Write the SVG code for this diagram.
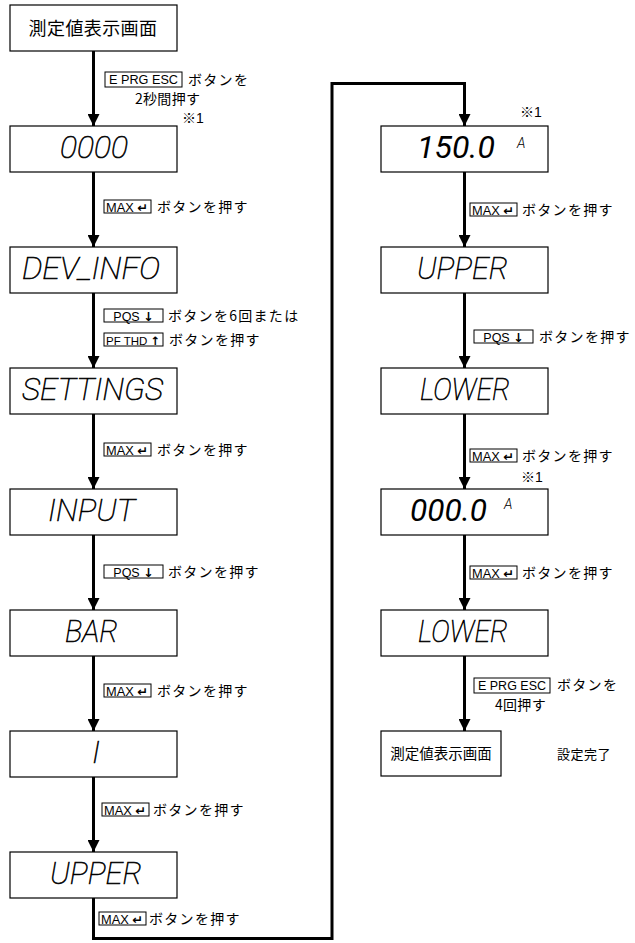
<svg xmlns="http://www.w3.org/2000/svg" width="635" height="943" viewBox="0 0 635 943">
<style>
.box{fill:#fff;stroke:#000;stroke-width:1.2}
.conn{fill:none;stroke:#000;stroke-width:3}
.seg{font-family:Roboto,"DejaVu Sans",sans-serif;font-style:italic;font-weight:100;font-size:32px;fill:#000;stroke:#000;stroke-width:0.6}
.segb{font-family:Roboto,"DejaVu Sans",sans-serif;font-style:italic;font-weight:400;font-size:32px}
.unit{font-family:Roboto,"DejaVu Sans",sans-serif;font-style:italic;font-weight:300;font-size:14px}
.main{font-family:"Noto Sans CJK JP",sans-serif;font-size:18px;letter-spacing:0.4px}
.jp{font-family:"Noto Sans CJK JP",sans-serif;font-size:14px;letter-spacing:1.3px}
.note{font-family:"Liberation Sans","Noto Sans CJK JP",sans-serif;font-size:14px}
.btn{fill:none;stroke:#000;stroke-width:1}
.bt{font-family:"Liberation Sans","DejaVu Sans",sans-serif;font-size:12.5px}
.ar{font-family:"DejaVu Sans",sans-serif;font-weight:bold}
</style>
<defs>
<marker id="ah" markerUnits="userSpaceOnUse" markerWidth="12" markerHeight="12" refX="12" refY="6" orient="auto">
<path d="M0,0 L12,6 L0,12 z" fill="#000"/>
</marker>
</defs>

<g id="connectors">
<line class="conn" x1="93.5" y1="51" x2="93.5" y2="126" marker-end="url(#ah)"/>
<line class="conn" x1="93.5" y1="172" x2="93.5" y2="247" marker-end="url(#ah)"/>
<line class="conn" x1="93.5" y1="293" x2="93.5" y2="368" marker-end="url(#ah)"/>
<line class="conn" x1="93.5" y1="414" x2="93.5" y2="489" marker-end="url(#ah)"/>
<line class="conn" x1="93.5" y1="535" x2="93.5" y2="610" marker-end="url(#ah)"/>
<line class="conn" x1="93.5" y1="656" x2="93.5" y2="731" marker-end="url(#ah)"/>
<line class="conn" x1="93.5" y1="777" x2="93.5" y2="852" marker-end="url(#ah)"/>
<path class="conn" d="M93.5,898 V938.5 H332 V83.5 H464.5 V126" marker-end="url(#ah)"/>
<line class="conn" x1="464.5" y1="172" x2="464.5" y2="247" marker-end="url(#ah)"/>
<line class="conn" x1="464.5" y1="293" x2="464.5" y2="368" marker-end="url(#ah)"/>
<line class="conn" x1="464.5" y1="414" x2="464.5" y2="489" marker-end="url(#ah)"/>
<line class="conn" x1="464.5" y1="535" x2="464.5" y2="610" marker-end="url(#ah)"/>
<line class="conn" x1="464.5" y1="656" x2="464.5" y2="731" marker-end="url(#ah)"/>
</g>

<g id="n1"><rect class="box" x="10" y="5" width="167" height="46"/><text class="main" x="93" y="35" text-anchor="middle">測定値表示画面</text></g>
<g id="n2"><rect class="box" x="10" y="126" width="167" height="46"/><text class="seg" x="60" y="158" textLength="68" lengthAdjust="spacingAndGlyphs">0000</text></g>
<g id="n3"><rect class="box" x="10" y="247" width="167" height="46"/><text class="seg" x="22" y="279" textLength="138" lengthAdjust="spacingAndGlyphs">DEV_INFO</text></g>
<g id="n4"><rect class="box" x="10" y="368" width="167" height="46"/><text class="seg" x="22" y="400" textLength="141" lengthAdjust="spacingAndGlyphs">SETTINGS</text></g>
<g id="n5"><rect class="box" x="10" y="489" width="167" height="46"/><text class="seg" x="48" y="521" textLength="87" lengthAdjust="spacingAndGlyphs">INPUT</text></g>
<g id="n6"><rect class="box" x="10" y="610" width="167" height="46"/><text class="seg" x="65" y="642" textLength="53" lengthAdjust="spacingAndGlyphs">BAR</text></g>
<g id="n7"><rect class="box" x="10" y="731" width="167" height="46"/><text class="seg" x="96" y="763" text-anchor="middle">I</text></g>
<g id="n8"><rect class="box" x="10" y="852" width="167" height="46"/><text class="seg" x="50" y="884" textLength="92" lengthAdjust="spacingAndGlyphs">UPPER</text></g>

<g id="n9"><rect class="box" x="381" y="126" width="167" height="46"/><text class="segb" x="417" y="158" textLength="78" lengthAdjust="spacingAndGlyphs">150.0</text><text class="unit" x="517" y="148">A</text></g>
<g id="n10"><rect class="box" x="381" y="247" width="167" height="46"/><text class="seg" x="417" y="279" textLength="91" lengthAdjust="spacingAndGlyphs">UPPER</text></g>
<g id="n11"><rect class="box" x="381" y="368" width="167" height="46"/><text class="seg" x="420" y="400" textLength="90" lengthAdjust="spacingAndGlyphs">LOWER</text></g>
<g id="n12"><rect class="box" x="381" y="489" width="167" height="46"/><text class="segb" x="410" y="521" textLength="77" lengthAdjust="spacingAndGlyphs">000.0</text><text class="unit" x="504" y="509">A</text></g>
<g id="n13"><rect class="box" x="381" y="610" width="167" height="46"/><text class="seg" x="418" y="642" textLength="90" lengthAdjust="spacingAndGlyphs">LOWER</text></g>
<g id="n14"><rect class="box" x="381" y="731" width="120" height="45"/><text class="main" x="441" y="759" text-anchor="middle" style="font-size:14.5px;letter-spacing:0">測定値表示画面</text></g>
<g id="done"><text class="jp" x="557" y="759" style="font-size:13px;letter-spacing:0.5px">設定完了</text></g>

<g id="labels">
<rect class="btn" x="105" y="72" width="77" height="15"/><text class="bt" x="109" y="84" textLength="69" lengthAdjust="spacingAndGlyphs">E PRG ESC</text>
<text class="jp" x="188" y="85">ボタンを</text>
<text class="jp" x="135" y="104" style="letter-spacing:0.3px">2秒間押す</text>
<text class="note" x="182" y="123">※1</text>

<rect class="btn" x="104" y="200" width="47" height="13"/><text class="bt" x="106" y="211.5" textLength="42" lengthAdjust="spacingAndGlyphs">MAX <tspan class="ar">↵</tspan></text>
<text class="jp" x="157" y="212">ボタンを押す</text>

<rect class="btn" x="104" y="309" width="59" height="13"/><text class="bt" x="133.5" y="320.5" text-anchor="middle">PQS <tspan class="ar">↓</tspan></text>
<text class="jp" x="168" y="321">ボタンを6回または</text>
<rect class="btn" x="104" y="333" width="59" height="13"/><text class="bt" x="106" y="344.5" style="font-size:11.5px">PF THD <tspan class="ar">↑</tspan></text>
<text class="jp" x="169" y="345">ボタンを押す</text>

<rect class="btn" x="104" y="443" width="47" height="13"/><text class="bt" x="106" y="454.5" textLength="42" lengthAdjust="spacingAndGlyphs">MAX <tspan class="ar">↵</tspan></text>
<text class="jp" x="157" y="455">ボタンを押す</text>

<rect class="btn" x="104" y="565" width="59" height="13"/><text class="bt" x="133.5" y="576.5" text-anchor="middle">PQS <tspan class="ar">↓</tspan></text>
<text class="jp" x="168" y="577">ボタンを押す</text>

<rect class="btn" x="104" y="684" width="47" height="13"/><text class="bt" x="106" y="695.5" textLength="42" lengthAdjust="spacingAndGlyphs">MAX <tspan class="ar">↵</tspan></text>
<text class="jp" x="157" y="696">ボタンを押す</text>

<rect class="btn" x="102" y="803" width="47" height="13"/><text class="bt" x="104" y="814.5" textLength="42" lengthAdjust="spacingAndGlyphs">MAX <tspan class="ar">↵</tspan></text>
<text class="jp" x="153" y="815">ボタンを押す</text>

<rect class="btn" x="99" y="912" width="47" height="13"/><text class="bt" x="101" y="923.5" textLength="42" lengthAdjust="spacingAndGlyphs">MAX <tspan class="ar">↵</tspan></text>
<text class="jp" x="149" y="924">ボタンを押す</text>

<text class="note" x="520" y="117">※1</text>
<rect class="btn" x="470" y="203" width="47" height="13"/><text class="bt" x="472" y="214.5" textLength="42" lengthAdjust="spacingAndGlyphs">MAX <tspan class="ar">↵</tspan></text>
<text class="jp" x="522" y="215">ボタンを押す</text>

<rect class="btn" x="474" y="330" width="59" height="13"/><text class="bt" x="503.5" y="341.5" text-anchor="middle">PQS <tspan class="ar">↓</tspan></text>
<text class="jp" x="539" y="342">ボタンを押す</text>

<rect class="btn" x="470" y="449" width="47" height="13"/><text class="bt" x="472" y="460.5" textLength="42" lengthAdjust="spacingAndGlyphs">MAX <tspan class="ar">↵</tspan></text>
<text class="jp" x="522" y="461">ボタンを押す</text>
<text class="note" x="521" y="482">※1</text>

<rect class="btn" x="470" y="566" width="47" height="13"/><text class="bt" x="472" y="577.5" textLength="42" lengthAdjust="spacingAndGlyphs">MAX <tspan class="ar">↵</tspan></text>
<text class="jp" x="522" y="578">ボタンを押す</text>

<rect class="btn" x="474" y="678" width="76" height="15"/><text class="bt" x="478" y="690" textLength="68" lengthAdjust="spacingAndGlyphs">E PRG ESC</text>
<text class="jp" x="557" y="690">ボタンを</text>
<text class="jp" x="495" y="710" style="letter-spacing:0.3px">4回押す</text>
</g>
</svg>
